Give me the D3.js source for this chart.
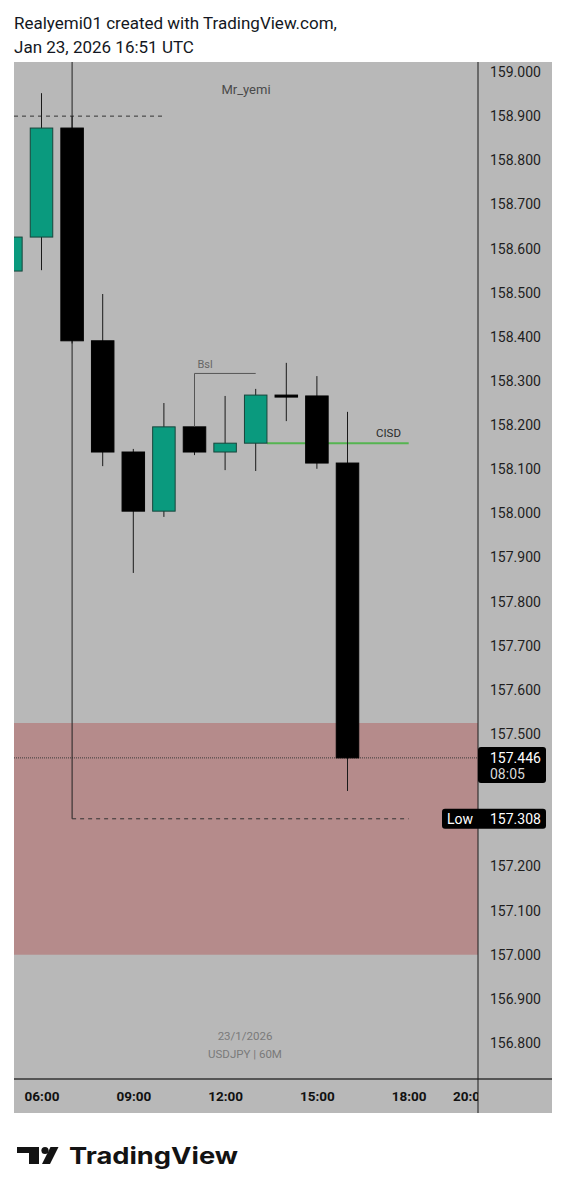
<!DOCTYPE html>
<html>
<head>
<meta charset="utf-8">
<script src="https://cdn.jsdelivr.net/npm/d3@7"></script>
<style>
  html, body { margin: 0; padding: 0; background: #fff; }
  svg { display: block; }
</style>
</head>
<body>
<div id="chart"></div>
<script>
// USDJPY 60M candles, 23/1/2026 (hour of open)
const hours  = [5, 6, 7, 8, 9, 10, 11, 12, 13, 14, 15, 16];
const opens  = [158.549, 158.626, 158.873, 158.391, 158.139, 158.005, 158.196, 158.139, 158.159, 158.268, 158.266, 158.114];
const highs  = [158.640, 158.952, 158.900, 158.497, 158.146, 158.250, 158.200, 158.266, 158.282, 158.341, 158.311, 158.230];
const lows   = [158.540, 158.551, 158.385, 158.107, 157.865, 157.992, 158.132, 158.098, 158.096, 158.209, 158.101, 157.371];
const closes = [158.626, 158.873, 158.391, 158.139, 158.005, 158.196, 158.139, 158.159, 158.268, 158.266, 158.114, 157.446];

// price axis / time axis labels
const priceTicks = [156.8, 156.9, 157.0, 157.1, 157.2, 157.5, 157.6, 157.7, 157.8, 157.9, 158.0, 158.1, 158.2, 158.3, 158.4, 158.5, 158.6, 158.7, 158.8, 158.9, 159.0];
const timeTicks = [6, 9, 12, 15, 18, 20];

// drawings
const zone = [157.0, 157.525];
const lowLevel = 157.308;
const lastPrice = 157.446;
const highLevel = 158.9;
const bslLevel = 158.317;
const cisdLevel = 158.159;

const W = 567, H = 1200;
const panel = { left: 14, right: 552, top: 62, bottom: 1113 };
const axisX = 478;       // price scale separator
const timeY = 1079;      // time scale separator
const bodyW = 22.5;

const svg = d3.select("#chart").append("svg")
  .attr("width", W).attr("height", H)
  .style("font-family", "Roboto, sans-serif");

// header
svg.append("text").attr("x", 14).attr("y", 29)
  .attr("font-size", 17).attr("fill", "#131722")
  .text("Realyemi01 created with TradingView.com,");
svg.append("text").attr("x", 14).attr("y", 53)
  .attr("font-size", 17).attr("fill", "#131722")
  .text("Jan 23, 2026 16:51 UTC");

// scales
const y = d3.scaleLinear().domain([156.8, 159.0]).range([1043, 72]);
const x = d3.scaleLinear().domain([6, 18]).range([41.5, 408.7]);

// background
svg.append("rect")
  .attr("x", panel.left).attr("y", panel.top)
  .attr("width", panel.right - panel.left).attr("height", panel.bottom - panel.top)
  .attr("fill", "#b8b8b8");

svg.append("clipPath").attr("id", "plot")
  .append("rect")
  .attr("x", panel.left).attr("y", panel.top)
  .attr("width", axisX - panel.left).attr("height", timeY - panel.top);

const plot = svg.append("g").attr("clip-path", "url(#plot)");

// demand zone
plot.append("rect")
  .attr("x", panel.left).attr("width", axisX - panel.left)
  .attr("y", y(zone[1])).attr("height", y(zone[0]) - y(zone[1]))
  .attr("fill", "#b58b8b");

// watermark
plot.append("text").attr("x", 246).attr("y", 94)
  .attr("text-anchor", "middle").attr("font-size", 13).attr("fill", "#4a4a4a")
  .text("Mr_yemi");
plot.append("text").attr("x", 245).attr("y", 1040)
  .attr("text-anchor", "middle").attr("font-size", 11.5).attr("fill", "#7a7a7a")
  .text("23/1/2026");
plot.append("text").attr("x", 245).attr("y", 1058)
  .attr("text-anchor", "middle").attr("font-size", 11.5).attr("fill", "#7a7a7a")
  .text("USDJPY | 60M");

// last price dotted line
plot.append("line")
  .attr("x1", panel.left).attr("x2", axisX)
  .attr("y1", y(lastPrice)).attr("y2", y(lastPrice))
  .attr("stroke", "#3a3a3a").attr("stroke-width", 1).attr("stroke-dasharray", "1,1");

// high dashed line
plot.append("line")
  .attr("x1", panel.left).attr("x2", x(10))
  .attr("y1", y(highLevel)).attr("y2", y(highLevel))
  .attr("stroke", "#333").attr("stroke-width", 1).attr("stroke-dasharray", "4,4");

// vertical line + low dashed line
plot.append("line")
  .attr("x1", x(7)).attr("x2", x(7))
  .attr("y1", panel.top).attr("y2", y(lowLevel))
  .attr("stroke", "#222").attr("stroke-width", 1);
plot.append("line")
  .attr("x1", x(7)).attr("x2", x(18))
  .attr("y1", y(lowLevel)).attr("y2", y(lowLevel))
  .attr("stroke", "#333").attr("stroke-width", 1).attr("stroke-dasharray", "4,4");

// CISD line (sits under the candles)
plot.append("line")
  .attr("x1", x(13) + bodyW / 2).attr("x2", x(18))
  .attr("y1", y(cisdLevel)).attr("y2", y(cisdLevel))
  .attr("stroke", "#55b450").attr("stroke-width", 2);
plot.append("text").attr("x", 401).attr("y", y(cisdLevel) - 6)
  .attr("text-anchor", "end").attr("font-size", 11.5).attr("fill", "#2a2a2a").text("CISD");

// candles
const candles = hours.map((h, i) => ({ h, o: opens[i], hi: highs[i], lo: lows[i], c: closes[i] }));

const g = plot.selectAll(".candle").data(candles).enter().append("g");
g.append("line")
  .attr("x1", d => x(d.h)).attr("x2", d => x(d.h))
  .attr("y1", d => y(d.hi)).attr("y2", d => y(d.lo))
  .attr("stroke", "#1a1a1a").attr("stroke-width", 1);
g.append("rect")
  .attr("x", d => x(d.h) - bodyW / 2).attr("width", bodyW)
  .attr("y", d => y(Math.max(d.o, d.c)))
  .attr("height", d => Math.max(2, Math.abs(y(d.o) - y(d.c))))
  .attr("fill", d => d.c >= d.o ? "#0a9a7e" : "#000")
  .attr("stroke", d => d.c >= d.o ? "#17453b" : "#000")
  .attr("stroke-width", 1);

// Bsl bracket
plot.append("path")
  .attr("d", `M${x(11)},${y(opens[6])}V${y(bslLevel)}H${x(13)}`)
  .attr("fill", "none").attr("stroke", "#555").attr("stroke-width", 1);
plot.append("text").attr("x", x(11) + 3).attr("y", y(bslLevel) - 5)
  .attr("font-size", 11).attr("fill", "#666").text("Bsl");

// price axis
const yAxis = svg.append("g")
  .attr("transform", `translate(${axisX},0)`)
  .call(d3.axisRight(y).tickValues(priceTicks).tickSize(0).tickPadding(12)
    .tickFormat(d3.format(".3f")));
yAxis.select(".domain").remove();
yAxis.selectAll("text").attr("font-size", 14).attr("fill", "#1e1e1e")
  .attr("font-family", "Roboto, sans-serif");

// time axis
svg.append("clipPath").attr("id", "timeclip")
  .append("rect").attr("x", panel.left).attr("y", timeY)
  .attr("width", axisX - panel.left).attr("height", panel.bottom - timeY);
const xAxis = svg.append("g")
  .attr("clip-path", "url(#timeclip)")
  .append("g")
  .attr("transform", `translate(0,${timeY})`)
  .call(d3.axisBottom(x).tickValues(timeTicks).tickSize(0).tickPadding(12)
    .tickFormat(h => String(h).padStart(2, "0") + ":00"));
xAxis.select(".domain").remove();
xAxis.selectAll("text").attr("font-size", 13.5).attr("font-weight", "bold")
  .attr("fill", "#111").attr("font-family", "Roboto, sans-serif");

// separators
svg.append("line")
  .attr("x1", panel.left).attr("x2", panel.right)
  .attr("y1", timeY).attr("y2", timeY)
  .attr("stroke", "#555").attr("stroke-width", 2);
svg.append("line")
  .attr("x1", axisX).attr("x2", axisX)
  .attr("y1", panel.top).attr("y2", panel.bottom)
  .attr("stroke", "#1a1a1a").attr("stroke-width", 1);

// last price label
const lp = svg.append("g");
lp.append("rect").attr("x", axisX).attr("y", y(lastPrice) - 11)
  .attr("width", 68).attr("height", 36).attr("rx", 3).attr("fill", "#000");
lp.append("text").attr("x", 490).attr("y", y(lastPrice) + 5)
  .attr("font-size", 14).attr("fill", "#fff").text(d3.format(".3f")(lastPrice));
lp.append("text").attr("x", 490).attr("y", y(lastPrice) + 21)
  .attr("font-size", 14).attr("fill", "#d8d8d8").text("08:05");

// low label
const ll = svg.append("g");
ll.append("rect").attr("x", 442).attr("y", y(lowLevel) - 10)
  .attr("width", 104).attr("height", 20).attr("rx", 3).attr("fill", "#000");
ll.append("text").attr("x", 447).attr("y", y(lowLevel) + 5)
  .attr("font-size", 14).attr("fill", "#fff").text("Low");
ll.append("text").attr("x", 490).attr("y", y(lowLevel) + 5)
  .attr("font-size", 14).attr("fill", "#fff").text(d3.format(".3f")(lowLevel));

// TradingView logo
const logo = svg.append("g").attr("fill", "#131313");
logo.append("path").attr("d", "M17,1147H39V1164H29V1153H17Z");
logo.append("circle").attr("cx", 45).attr("cy", 1150.5).attr("r", 3.6);
logo.append("path").attr("d", "M50.5,1147H58.5L50,1164H42Z");
logo.append("text").attr("x", 69).attr("y", 1164)
  .attr("font-family", "Inter, sans-serif").attr("font-weight", 700)
  .attr("font-size", 23.5).attr("textLength", 169).attr("lengthAdjust", "spacingAndGlyphs")
  .text("TradingView");
</script>
</body>
</html>
